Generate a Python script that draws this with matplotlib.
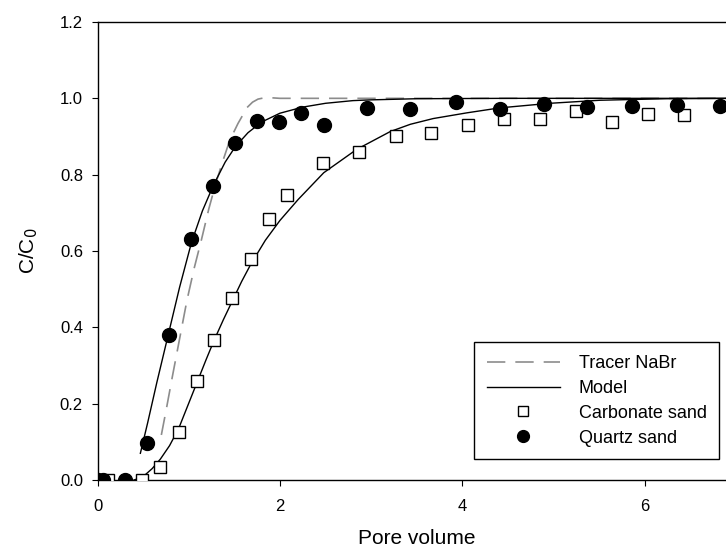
import matplotlib.pyplot as plt

plt.rcParams['font.family'] = ['Liberation Sans', 'DejaVu Sans']

carb_pv = [0.12, 0.49, 0.69, 0.89, 1.09, 1.28, 1.48, 1.68, 1.88, 2.08, 2.47,
           2.87, 3.27, 3.66, 4.06, 4.46, 4.85, 5.25, 5.64, 6.04, 6.43]
carb_c = [0.0, 0.0, 0.035, 0.125, 0.26, 0.367, 0.476, 0.578, 0.683, 0.747, 0.831,
          0.859, 0.902, 0.908, 0.930, 0.945, 0.945, 0.968, 0.939, 0.958, 0.956]

quartz_pv = [0.0, 0.06, 0.30, 0.54, 0.78, 1.03, 1.27, 1.51, 1.75, 1.99, 2.23,
             2.48, 2.96, 3.43, 3.93, 4.41, 4.89, 5.37, 5.86, 6.35, 6.82]
quartz_c = [0.0, 0.0, 0.0, 0.096, 0.38, 0.631, 0.771, 0.884, 0.941, 0.939, 0.961,
            0.929, 0.975, 0.973, 0.991, 0.973, 0.984, 0.976, 0.981, 0.982, 0.981]

# curves
tracer_pv = [0.70, 0.75, 0.82, 0.90, 0.98, 1.06, 1.14, 1.22, 1.30, 1.38, 1.45,
             1.54, 1.64, 1.70, 1.76, 1.82, 1.87, 2.0, 7.0]
tracer_c = [0.118, 0.18, 0.27, 0.37, 0.47, 0.555, 0.63, 0.71, 0.78, 0.84, 0.89,
            0.934, 0.976, 0.99, 0.998, 1.001, 1.002, 1.0, 1.0]

model_q_pv = [0.47, 0.55, 0.65, 0.78, 0.90, 1.03, 1.15, 1.27, 1.40, 1.51, 1.65,
              1.80, 2.00, 2.25, 2.50, 2.80, 3.00, 3.50, 4.50, 7.0]
model_q_c = [0.07, 0.15, 0.255, 0.385, 0.505, 0.622, 0.705, 0.772, 0.833, 0.873, 0.910,
             0.938, 0.961, 0.977, 0.987, 0.994, 0.996, 0.999, 1.0, 1.0]

model_c_pv = [0.40, 0.45, 0.52, 0.60, 0.69, 0.79, 0.89, 0.99, 1.09, 1.19, 1.28,
              1.38, 1.48, 1.58, 1.68, 1.84, 2.00, 2.20, 2.48, 2.84, 3.21, 3.43,
              3.68, 4.05, 4.41, 4.96, 5.51, 6.24, 7.0]
model_c_c = [0.0, 0.004, 0.013, 0.03, 0.055, 0.09, 0.135, 0.195, 0.255, 0.315, 0.367,
             0.42, 0.47, 0.52, 0.565, 0.628, 0.68, 0.735, 0.805, 0.866, 0.913, 0.932,
             0.947, 0.962, 0.975, 0.987, 0.995, 0.999, 1.0]

fig = plt.figure(figsize=(7.26, 5.52), dpi=100)
ax = fig.add_axes([97.5 / 726, 72 / 552, 638.5 / 726, 458 / 552])

ax.plot(tracer_pv, tracer_c, color='#8c8c8c', lw=1.2, dashes=(11, 6),
        label='Tracer NaBr', zorder=2)
ax.plot(model_q_pv, model_q_c, color='black', lw=1.0, label='Model', zorder=3)
ax.plot(model_c_pv, model_c_c, color='black', lw=1.0, zorder=3)
ax.plot(carb_pv, carb_c, ls='none', marker='s', ms=8, mfc='white', mec='black',
        mew=1.0, label='Carbonate sand', zorder=4)
ax.plot(quartz_pv, quartz_c, ls='none', marker='o', ms=10, mfc='black', mec='black',
        label='Quartz sand', zorder=5)

ax.set_xlim(0, 7)
ax.set_ylim(0, 1.2)
ax.set_xticks([0, 2, 4, 6])
ax.set_yticks([0.0, 0.2, 0.4, 0.6, 0.8, 1.0, 1.2])
ax.set_yticklabels(['0.0', '0.2', '0.4', '0.6', '0.8', '1.0', '1.2'])
ax.tick_params(direction='out', length=4.5, width=0.8, labelsize=12)
ax.tick_params(axis='x', pad=9)
ax.tick_params(axis='y', pad=6)
for s in ax.spines.values():
    s.set_linewidth(1.0)

ax.set_xlabel('Pore volume', fontsize=15, labelpad=11)
ax.set_ylabel('C/C$_0$', fontsize=15, labelpad=14)

leg = ax.legend(loc='lower right', bbox_to_anchor=(0.974, 0.045), fontsize=13,
                frameon=True, fancybox=False, edgecolor='black', framealpha=1,
                handlelength=4.05, handletextpad=1.05, labelspacing=0.44,
                borderpad=0.7, borderaxespad=0, markerscale=0.85)
leg.get_frame().set_linewidth(1.0)

plt.savefig('out.png', dpi=100)
